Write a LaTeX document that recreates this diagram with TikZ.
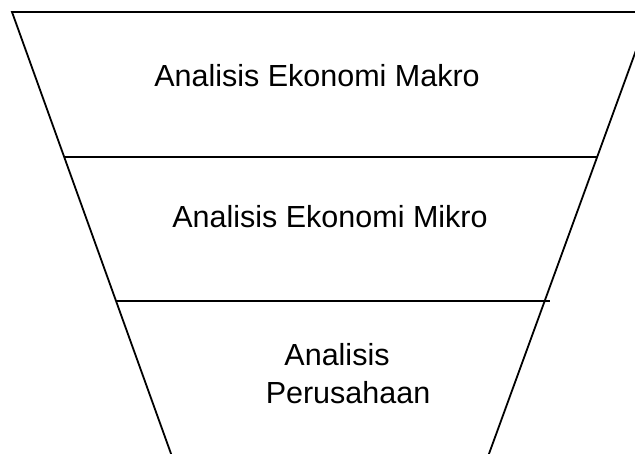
\documentclass[tikz,border=0pt]{standalone}
\usepackage{fontspec}
\setmainfont{Liberation Sans}
\begin{document}
\begin{tikzpicture}[x=1pt,y=-1pt,
  edge/.style={draw=black,line width=1.8pt},
  lbl/.style={font=\fontsize{30.5}{38}\selectfont,anchor=base,inner sep=0pt}]
\useasboundingbox (0,0) rectangle (635,454);
\clip (0,0) rectangle (635,454);
\coordinate (tl) at (12,12);
\coordinate (tr) at (650,12);
\coordinate (bl) at (174,462);
\coordinate (br) at (486,462);
\coordinate (h1l) at (64,157);
\coordinate (h1r) at (597,157);
\coordinate (h2l) at (116,301);
\coordinate (h2r) at (550,301);
\draw[edge,line join=miter] (bl) -- (tl) -- (tr) -- (br);
\draw[edge] (h1l) -- (h1r);
\draw[edge] (h2l) -- (h2r);
\node[lbl] (makro) at (317,87) {Analisis Ekonomi Makro};
\node[lbl] (mikro) at (330,228) {Analisis Ekonomi Mikro};
\node[lbl] (per1) at (337,366) {Analisis};
\node[lbl] (per2) at (348,404) {Perusahaan};
\end{tikzpicture}
\end{document}
